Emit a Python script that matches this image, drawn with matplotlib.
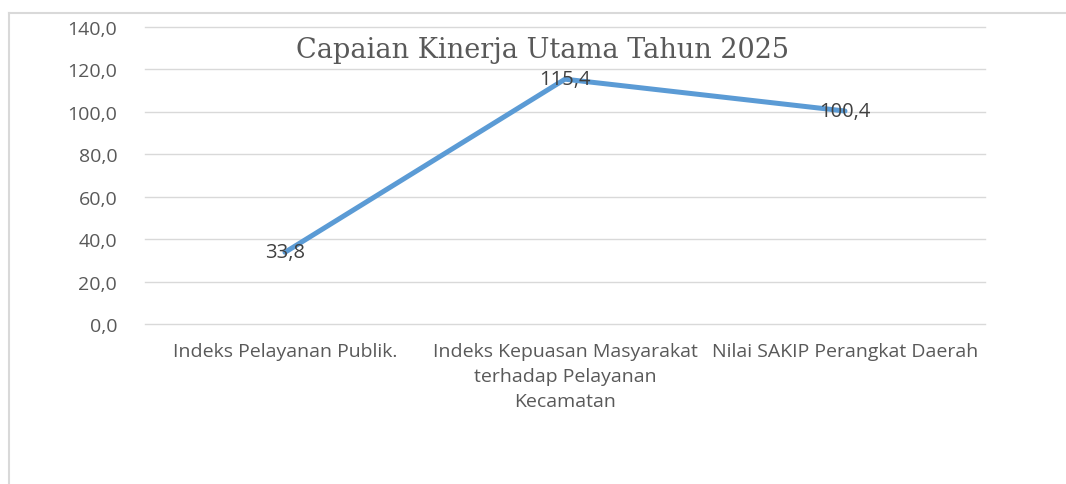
import matplotlib.pyplot as plt
from matplotlib.lines import Line2D

# Data
categories = [
    "Indeks Pelayanan Publik.",
    "Indeks Kepuasan Masyarakat\nterhadap Pelayanan\nKecamatan",
    "Nilai SAKIP Perangkat Daerah",
]
values = [33.8, 115.4, 100.4]
y_ticks = [0, 20, 40, 60, 80, 100, 120, 140]

W, H = 1066, 485
fig = plt.figure(figsize=(W / 100, H / 100), dpi=100)
ax = fig.add_axes([145 / W, 1 - 325 / H, 840 / W, 297 / H])

x = list(range(len(categories)))
ax.plot(x, values, color="#5B9BD5", linewidth=3.6, solid_capstyle="round", zorder=3)
for xi, v in zip(x, values):
    ax.text(xi, v, f"{v:.1f}".replace(".", ","), ha="center", va="center",
            fontsize=14.5, family="Open Sans", color="#404040", zorder=4)

ax.set_xlim(-0.5, len(categories) - 0.5)
ax.set_ylim(0, 140)
ax.set_yticks(y_ticks)
ax.set_yticklabels([f"{t:.1f}".replace(".", ",") for t in y_ticks])
ax.set_xticks(x)
ax.set_xticklabels(categories, linespacing=1.5)
ax.tick_params(axis="both", length=0, labelsize=14, labelcolor="#595959")
ax.tick_params(axis="y", pad=20)
ax.tick_params(axis="x", pad=13)
for lab in ax.get_xticklabels() + ax.get_yticklabels():
    lab.set_family("Open Sans")
for lab in ax.get_xticklabels():
    lab.set_multialignment("center")

ax.yaxis.grid(True, color="#d9d9d9", linewidth=1)
for gl in ax.get_ygridlines():
    gl.set_clip_on(False)
ax.set_axisbelow(True)
for s in ax.spines.values():
    s.set_visible(False)

fig.text(543 / W, 1 - 51 / H, "Capaian Kinerja Utama Tahun 2025", ha="center", va="center",
         fontsize=19.5, family="DejaVu Serif", color="#595959")

# chart area border
fig.add_artist(Line2D([9 / W, 9 / W], [0, 1 - 14 / H], transform=fig.transFigure,
                      color="#d9d9d9", linewidth=1.5))
fig.add_artist(Line2D([9 / W, 1], [1 - 14 / H, 1 - 14 / H], transform=fig.transFigure,
                      color="#d9d9d9", linewidth=1.5))

fig.savefig("out.png", dpi=100)
